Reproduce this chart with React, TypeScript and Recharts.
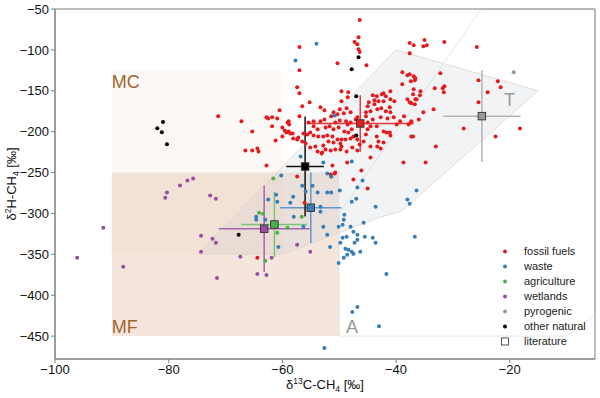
import React from 'react'
import { ScatterChart, Scatter, XAxis, YAxis, ErrorBar, ReferenceArea, ReferenceDot, Legend, Label } from 'recharts'

const FONT = '"Liberation Sans", Arial, Helvetica, sans-serif'

const xTicks = [-100, -80, -60, -40, -20]
const yTicks = [-450, -400, -350, -300, -250, -200, -150, -100, -50]
const xDomain = [-100, -5]
const yDomain = [-478, -50]

// samples, [δ13C, δ2H]
const fossilFuels = [
  [-46.4, -63.5], [-46.6, -84.4], [-47.3, -90.5], [-46.8, -93.0], [-46.6, -99.1], [-46.4, -102.7], [-57.0, -96.6],
  [-57.0, -124.8], [-57.4, -145.7], [-57.0, -153.1], [-50.3, -116.3], [-45.2, -118.7], [-37.6, -91.7], [-36.9, -94.2],
  [-35.0, -88.0], [-35.2, -95.4], [-34.6, -94.2], [-31.5, -90.5], [-25.8, -96.6], [-37.6, -104.0], [-38.9, -127.3],
  [-37.6, -129.7], [-36.9, -132.2], [-36.6, -134.6], [-37.4, -138.3], [-38.9, -142.0], [-32.2, -128.5], [-25.5, -137.1],
  [-22.1, -138.3], [-21.6, -145.7], [-23.9, -151.8], [-31.5, -144.5], [-31.8, -146.9], [-31.6, -151.8], [-33.2, -146.9],
  [-35.7, -150.6], [-35.8, -155.5], [-37.3, -165.3], [-36.4, -160.4], [-33.4, -172.7], [-35.2, -176.4], [-25.5, -164.1],
  [-36.0, -185.0], [-37.3, -187.4], [-37.8, -191.1], [-39.9, -191.1], [-28.1, -196.0], [-18.2, -196.0], [-22.5, -205.8],
  [-33.0, -218.1], [-37.3, -205.8], [-38.7, -237.7], [-34.8, -237.7], [-45.0, -269.6], [-46.1, -247.5], [-47.5, -258.6],
  [-48.6, -237.7], [-51.2, -241.4], [-50.7, -250.0], [-51.4, -254.9], [-49.8, -214.4], [-44.5, -231.6], [-43.3, -218.1],
  [-43.4, -205.8], [-42.2, -213.2], [-41.0, -204.6], [-41.1, -200.9], [-41.7, -200.9], [-56.1, -286.8], [-62.8, -241.4],
  [-57.4, -254.9], [-64.4, -354.3], [-66.5, -223.0], [-65.3, -223.0], [-64.4, -220.6], [-64.2, -224.3], [-71.3, -181.3],
  [-67.2, -187.4], [-65.3, -199.7], [-62.8, -182.5], [-62.5, -183.8], [-61.8, -182.5], [-60.9, -183.8], [-60.5, -173.9],
  [-61.8, -193.5], [-60.0, -194.8], [-59.6, -198.5], [-59.3, -200.9], [-58.9, -187.4], [-58.8, -191.1], [-58.6, -202.1],
  [-58.1, -208.3], [-60.0, -205.8], [-61.2, -210.7], [-57.0, -181.3], [-57.2, -207.1],
  [-49.6, -150.6], [-48.4, -151.8], [-48.5, -157.9], [-49.6, -162.8], [-55.2, -164.1], [-56.5, -169.0], [-53.3, -170.2],
  [-52.6, -173.9], [-49.9, -172.7], [-48.7, -171.5], [-48.0, -176.4], [-49.2, -177.6], [-50.3, -178.8], [-51.0, -176.4],
  [-51.4, -181.3], [-52.6, -185.0], [-53.3, -187.4], [-54.5, -187.4], [-55.4, -188.7], [-54.5, -193.5], [-53.8, -197.2],
  [-52.4, -194.8], [-51.7, -193.5], [-50.7, -188.7], [-49.9, -186.2], [-48.8, -187.4], [-48.5, -191.1], [-48.0, -188.7],
  [-47.1, -185.0], [-46.8, -182.5], [-47.8, -197.2], [-48.4, -200.9], [-49.1, -199.7], [-50.1, -194.8], [-51.0, -197.2],
  [-51.2, -205.8], [-52.1, -204.6], [-52.8, -205.8], [-53.7, -205.8], [-54.5, -204.6], [-55.1, -200.9], [-55.6, -203.4],
  [-56.3, -202.1], [-56.5, -211.9], [-57.4, -209.5], [-58.9, -199.7], [-59.1, -188.7], [-58.2, -202.1], [-55.9, -214.4],
  [-55.1, -219.3], [-54.2, -218.1], [-52.8, -216.9], [-51.9, -212.0], [-51.0, -213.2], [-50.3, -209.5], [-49.6, -209.5],
  [-48.9, -209.5], [-48.0, -208.3], [-47.7, -219.3], [-48.7, -224.3], [-49.8, -221.8], [-50.7, -221.8], [-51.5, -223.0],
  [-52.4, -221.8], [-53.0, -225.5], [-53.8, -224.3], [-46.4, -215.7], [-45.7, -212.0], [-45.3, -203.4], [-45.0, -197.2],
  [-44.5, -193.5], [-45.0, -188.7], [-45.3, -181.3], [-45.3, -176.4], [-45.0, -169.0], [-44.8, -164.1], [-44.1, -155.5],
  [-43.4, -156.7], [-42.5, -154.3], [-42.2, -153.1], [-41.8, -156.7], [-43.1, -162.8], [-43.8, -161.6], [-43.8, -166.5],
  [-43.3, -172.7], [-44.5, -175.1], [-42.6, -171.5], [-41.8, -175.1], [-41.0, -176.4], [-41.1, -170.2], [-40.3, -162.8],
  [-41.0, -160.4], [-42.2, -162.8], [-44.1, -185.0], [-42.7, -182.5], [-41.5, -183.8], [-40.4, -182.5], [-39.3, -187.4],
  [-38.6, -181.3], [-43.4, -193.5], [-42.2, -199.7], [-43.1, -212.0], [-37.4, -188.7], [-37.0, -205.8], [-38.0, -160.4],
  [-37.6, -164.1], [-36.7, -166.5], [-36.6, -160.4], [-37.0, -154.3], [-36.9, -148.2], [-38.0, -131.0], [-36.7, -137.1],
  [-44.5, -218.1], [-46.8, -209.5], [-47.5, -205.8], [-42.7, -220.6], [-46.8, -223.0], [-49.6, -218.1], [-51.5, -252.4],
  [-50.8, -251.2], [-53.1, -226.7], [-41.0, -150.6],
]

const waste = [
  [-54.0, -92.4], [-57.7, -112.9], [-50.8, -180.1], [-56.8, -230.4], [-52.8, -237.7], [-47.8, -236.5], [-45.9, -259.8],
  [-46.8, -268.4], [-60.2, -253.7], [-56.5, -266.0], [-54.7, -266.0], [-53.8, -274.5], [-52.1, -251.2], [-51.4, -254.9],
  [-49.9, -272.1], [-47.0, -281.9], [-47.8, -285.6], [-43.6, -291.7], [-52.1, -274.5], [-51.4, -274.5], [-58.1, -279.5],
  [-58.6, -286.8], [-61.1, -277.0], [-60.9, -285.6], [-62.5, -283.1], [-64.6, -304.0], [-64.6, -307.7], [-63.0, -307.7],
  [-58.0, -304.0], [-60.7, -340.9], [-53.3, -291.7], [-53.3, -297.9], [-56.3, -316.3], [-52.8, -316.3], [-50.1, -316.3],
  [-49.1, -301.6], [-49.2, -307.7], [-49.4, -313.9], [-45.7, -311.4], [-48.0, -316.3], [-47.5, -322.4], [-46.8, -326.1],
  [-45.5, -328.6], [-44.1, -329.8], [-43.6, -335.9], [-48.7, -328.6], [-49.4, -329.8], [-49.8, -335.9], [-46.8, -332.2],
  [-47.3, -335.9], [-52.1, -326.1], [-51.6, -340.9], [-48.9, -343.3], [-48.4, -344.5], [-47.8, -347.0], [-47.5, -349.4],
  [-46.3, -347.0], [-48.6, -350.6], [-49.2, -354.3], [-50.1, -360.5], [-41.7, -374.0], [-46.8, -414.4], [-47.7, -420.6],
  [-43.0, -437.8], [-52.6, -464.7], [-38.0, -283.1], [-37.6, -288.0], [-36.7, -328.6], [-36.4, -272.1], [-55.9, -273.3],
]

const agriculture = [
  [-61.6, -257.4], [-64.1, -299.1], [-63.4, -300.3], [-60.9, -323.6], [-59.1, -317.5], [-56.6, -304.0], [-63.0, -358.0],
]

const wetlands = [
  [-91.5, -317.5], [-96.1, -354.3], [-88.0, -365.3], [-78.0, -265.9], [-76.7, -259.8], [-75.7, -257.4], [-80.3, -274.5],
  [-80.6, -280.7], [-72.7, -278.2], [-71.7, -281.9], [-74.3, -327.3], [-72.3, -331.0], [-71.7, -335.9], [-74.3, -347.0],
  [-67.4, -353.1], [-71.5, -378.9], [-64.4, -374.0], [-62.8, -375.3], [-61.9, -354.3], [-57.4, -338.4], [-55.1, -347.0],
]

const pyrogenic = [[-19.3, -127.3]]

const otherNatural = [
  [-82.0, -195.7], [-81.2, -200.6], [-81.0, -188.3], [-80.3, -215.3], [-46.6, -108.9], [-47.8, -123.6], [-47.0, -156.7],
  [-47.0, -204.6], [-67.7, -326.1],
]

// literature means with spread
const litNames = ['fossil fuels', 'waste', 'agriculture', 'wetlands', 'pyrogenic', 'other natural']
const litX = [-46.3, -55.0, -61.4, -63.2, -24.9, -56.0]
const litY = [-190.0, -293.0, -313.5, -318.7, -181.0, -242.6]
const litXErr = [9.4, 5.4, 5.8, 8.0, 6.8, 3.3]
const litYErr = [34.5, 43.0, 40.0, 53.0, 56.0, 61.0]

// source regions
const mcBox = { x1: -90, x2: -60, y1: -350, y2: -125 }
const mfBox = { x1: -90, x2: -50, y1: -450, y2: -250 }
const tRegion = [[-75, -350], [-60, -350], [-43, -305], [-39, -297], [-15, -150], [-40, -100]]
const aRegion = [[-50, -450], [-50, -300], [-25, -50], [-5, -50], [-5, -424], [-10, -450]]

const legendNames = ['fossil fuels', 'waste', 'agriculture', 'wetlands', 'pyrogenic', 'other natural', 'literature']

const colors: Record<string, string> = {
  'fossil fuels': '#e41a1c',
  waste: '#377eb8',
  agriculture: '#4daf4a',
  wetlands: '#984ea3',
  pyrogenic: '#999999',
  'other natural': '#000000',
}
const barColors: Record<string, string> = {
  'fossil fuels': '#e8393b',
  waste: '#5f98cc',
  agriculture: '#7cc47a',
  wetlands: '#a565b0',
  pyrogenic: '#b3b3b3',
  'other natural': '#111111',
}

const series = [
  { name: 'fossil fuels', pts: fossilFuels },
  { name: 'waste', pts: waste },
  { name: 'agriculture', pts: agriculture },
  { name: 'wetlands', pts: wetlands },
  { name: 'pyrogenic', pts: pyrogenic },
  { name: 'other natural', pts: otherNatural },
]

const toPts = (arr: number[][]) => arr.map(([x, y]) => ({ x, y }))

const fmt = (v: number) => (v < 0 ? '\u2212' + Math.abs(v) : String(v))

const dot = (color: string) => (p: any) => <circle cx={p.cx} cy={p.cy} r={2} fill={color} />

const square = (color: string) => (p: any) => (
  <rect x={p.cx - 3.75} y={p.cy - 3.75} width={7.5} height={7.5} fill={color} stroke="#333" strokeWidth={0.9} />
)

// draws a polygon inside the pixel box that recharts computes for its bounding rect
function polygonShape(verts: number[][], style: any) {
  const xs = verts.map(v => v[0])
  const ys = verts.map(v => v[1])
  const minX = Math.min(...xs), maxX = Math.max(...xs)
  const minY = Math.min(...ys), maxY = Math.max(...ys)
  const shape = (p: any) => {
    const d = verts
      .map(([vx, vy], i) => {
        const px = p.x + ((vx - minX) / (maxX - minX)) * p.width
        const py = p.y + ((maxY - vy) / (maxY - minY)) * p.height
        return `${i ? 'L' : 'M'}${px},${py}`
      })
      .join(' ') + 'Z'
    return <path d={d} {...style} />
  }
  return { x1: minX, x2: maxX, y1: minY, y2: maxY, shape }
}

const tPoly = polygonShape(tRegion, { fill: '#c8ccd2', fillOpacity: 0.23, stroke: '#e6d3c6', strokeWidth: 0.8 })
const aPoly = polygonShape(aRegion, { fill: 'none', stroke: '#e2e2e2', strokeWidth: 0.8 })

const regionText = (txt: string, color: string) => (p: any) => (
  <text x={p.cx} y={p.cy} fontSize={18} fontFamily={FONT} fill={color}>{txt}</text>
)

const XLabel = (props: any) => {
  const { x, y, width } = props.viewBox
  return (
    <text x={x + width / 2} y={y + 30} textAnchor="middle" fontSize={13} fontFamily={FONT} fill="#111">
      δ<tspan fontSize={8.5} dy={-5}>13</tspan><tspan dy={5}>C-CH</tspan><tspan fontSize={8.5} dy={3}>4</tspan>
      <tspan dy={-3}> [‰]</tspan>
    </text>
  )
}

const YLabel = (props: any) => {
  const { x, y, height } = props.viewBox
  const cx = x + 16
  const cy = y + height / 2
  return (
    <text x={cx} y={cy} transform={`rotate(-90 ${cx} ${cy})`} textAnchor="middle" fontSize={13} fontFamily={FONT} fill="#111">
      δ<tspan fontSize={8.5} dy={-5}>2</tspan><tspan dy={5}>H-CH</tspan><tspan fontSize={8.5} dy={3}>4</tspan>
      <tspan dy={-3}> [‰]</tspan>
    </text>
  )
}

const renderLegend = () => (
  <div style={{ fontFamily: FONT, fontSize: 11, color: '#222' }}>
    {legendNames.map(name => (
      <div key={name} style={{ display: 'flex', alignItems: 'center', height: 15 }}>
        <svg width={14} height={15}>
          {name === 'literature' ? (
            <rect x={3.5} y={4} width={7} height={7} fill="none" stroke="#444" strokeWidth={0.9} />
          ) : (
            <circle cx={7} cy={7.5} r={2} fill={colors[name]} />
          )}
        </svg>
        <span style={{ marginLeft: 12, lineHeight: '15px' }}>{name}</span>
      </div>
    ))}
  </div>
)

export default function App() {
  const axisColor = '#7f7f7f'
  return (
    <div style={{ position: 'absolute', left: 0, top: 0, background: '#fff' }}>
      <ScatterChart width={600} height={398} margin={{ top: 9, right: 5, bottom: 0, left: 0 }}>
        <XAxis
          type="number"
          dataKey="x"
          domain={xDomain}
          ticks={xTicks}
          interval={0}
          allowDataOverflow
          tickFormatter={fmt}
          height={39}
          tickSize={4}
          tickMargin={2}
          stroke={axisColor}
          tick={{ fontSize: 13, fontFamily: FONT, fill: '#111' }}
        >
          <Label content={XLabel} />
        </XAxis>
        <YAxis
          type="number"
          dataKey="y"
          domain={yDomain}
          ticks={yTicks}
          interval={0}
          allowDataOverflow
          tickFormatter={fmt}
          width={55}
          tickSize={4}
          tickMargin={2}
          stroke={axisColor}
          tick={{ fontSize: 13, fontFamily: FONT, fill: '#111' }}
        >
          <Label content={YLabel} />
        </YAxis>

        <ReferenceArea {...mcBox} fill="#eac2ad" fillOpacity={0.12} stroke="none" ifOverflow="visible" />
        <ReferenceArea {...mfBox} fill="#d39b77" fillOpacity={0.25} stroke="none" ifOverflow="visible" />
        <ReferenceArea x1={aPoly.x1} x2={aPoly.x2} y1={aPoly.y1} y2={aPoly.y2} ifOverflow="visible" shape={aPoly.shape} />
        <ReferenceArea x1={tPoly.x1} x2={tPoly.x2} y1={tPoly.y1} y2={tPoly.y2} ifOverflow="visible" shape={tPoly.shape} />

        <ReferenceDot x={-90} y={-146} r={0} ifOverflow="visible" shape={regionText('MC', '#a3652e')} />
        <ReferenceDot x={-90} y={-446} r={0} ifOverflow="visible" shape={regionText('MF', '#a3652e')} />
        <ReferenceDot x={-21} y={-169} r={0} ifOverflow="visible" shape={regionText('T', '#999999')} />
        <ReferenceDot x={-48.8} y={-446} r={0} ifOverflow="visible" shape={regionText('A', '#999999')} />

        {series.map(s => (
          <Scatter key={s.name} name={s.name} data={toPts(s.pts)} shape={dot(colors[s.name])} isAnimationActive={false} />
        ))}

        {litNames.map((name, i) => (
          <Scatter
            key={'lit-' + name}
            data={[{ x: litX[i], y: litY[i], ex: litXErr[i], ey: litYErr[i] }]}
            shape={square(colors[name])}
            isAnimationActive={false}
          >
            <ErrorBar dataKey="ex" direction="x" width={0} stroke={barColors[name]} strokeWidth={1.5} isAnimationActive={false} />
            <ErrorBar dataKey="ey" direction="y" width={0} stroke={barColors[name]} strokeWidth={1.5} isAnimationActive={false} />
          </Scatter>
        ))}

        <ReferenceArea x1={-100} x2={-5} y1={-478} y2={-50} fill="none" stroke={axisColor} strokeWidth={1} ifOverflow="visible" />

        <Legend
          layout="vertical"
          align="center"
          verticalAlign="middle"
          content={renderLegend}
          wrapperStyle={{ left: 498, top: 244, width: 100, height: 105 }}
        />
      </ScatterChart>
    </div>
  )
}
